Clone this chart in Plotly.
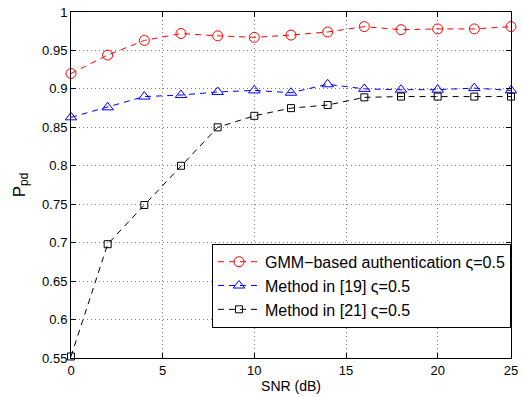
import plotly.graph_objects as go

snr = [0, 2, 4, 6, 8, 10, 12, 14, 16, 18, 20, 22, 24]
gmm = [0.920, 0.944, 0.963, 0.972, 0.969, 0.967, 0.970, 0.974, 0.981, 0.977, 0.978, 0.978, 0.981]
m19 = [0.863, 0.876, 0.890, 0.892, 0.896, 0.898, 0.895, 0.906, 0.900, 0.899, 0.899, 0.901, 0.898]
m21 = [0.552, 0.698, 0.749, 0.800, 0.850, 0.865, 0.875, 0.879, 0.889, 0.890, 0.890, 0.890, 0.890]
names = ["GMM\u2212based authentication \u03c2=0.5", "Method in [19] \u03c2=0.5", "Method in [21] \u03c2=0.5"]
xtick_vals = [0, 5, 10, 15, 20, 24]
xtick_text = ["0", "5", "10", "15", "20", "25"]
ytick_vals = [0.55, 0.6, 0.65, 0.7, 0.75, 0.8, 0.85, 0.9, 0.95, 1.0]
ytick_text = ["0.55", "0.6", "0.65", "0.7", "0.75", "0.8", "0.85", "0.9", "0.95", "1"]

FONT = "Liberation Sans, Arial, sans-serif"

fig = go.Figure()
styles = [
    (gmm, "red", "circle-open", 10),
    (m19, "blue", "triangle-up-open", 10),
    (m21, "black", "square-open", 7),
]
for (ys, col, sym, sz), nm in zip(styles, names):
    fig.add_trace(go.Scatter(
        x=snr, y=ys, name=nm, mode="lines+markers",
        line=dict(color=col, width=1, dash="6px,5px"),
        marker=dict(symbol=sym, size=sz, color=col, line=dict(color=col, width=1)),
        cliponaxis=False,
    ))

axis_common = dict(
    showline=True, linecolor="black", linewidth=1, mirror="ticks",
    ticks="inside", ticklen=5, tickcolor="black",
    showgrid=True, gridcolor="#808080", griddash="1px,3px", gridwidth=1,
    zeroline=False, automargin=False, ticklabeloverflow="allow",
    tickfont=dict(family=FONT, size=13, color="black"),
)
fig.update_xaxes(range=[0, 24], tickvals=xtick_vals, ticktext=xtick_text,
                 title=dict(text="SNR (dB)", standoff=2,
                            font=dict(family=FONT, size=14, color="black")),
                 **axis_common)
fig.update_yaxes(range=[0.55, 1.0], tickvals=ytick_vals, ticktext=ytick_text,
                 title=dict(text="P<sub>pd</sub>", standoff=12,
                            font=dict(family=FONT, size=17, color="black")),
                 **axis_common)

fig.update_layout(
    width=523, height=397,
    margin=dict(l=71, r=12, t=12, b=39),
    plot_bgcolor="white", paper_bgcolor="white",
    showlegend=True,
    legend=dict(
        x=1, xanchor="right", y=0.330, yanchor="top",
        bgcolor="white", bordercolor="black", borderwidth=1,
        font=dict(family=FONT, size=16, color="black"),
        tracegroupgap=0, itemwidth=42,
    ),
)
fig.write_html("out.html", config={"displayModeBar": False},
               post_script="document.body.style.margin='0px';")
